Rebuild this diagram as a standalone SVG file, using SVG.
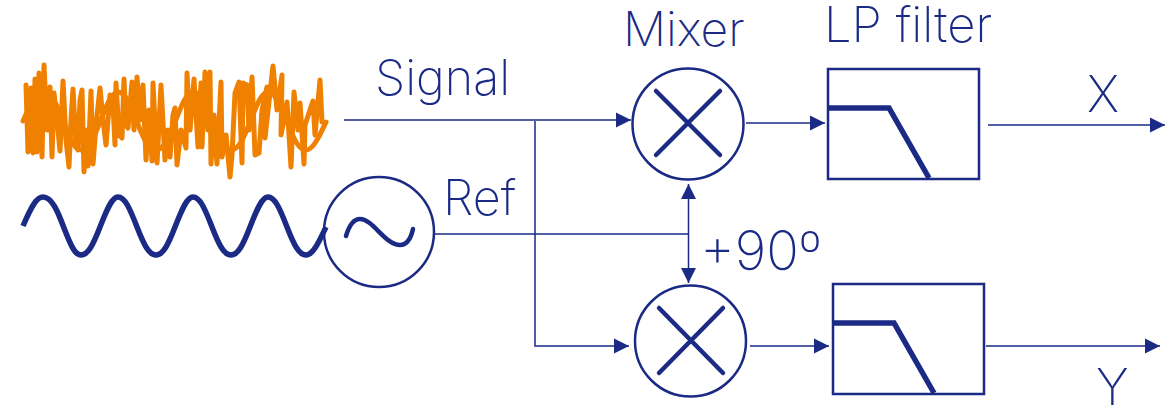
<svg xmlns="http://www.w3.org/2000/svg" width="1176" height="407" viewBox="0 0 1176 407">
<style>
text{font-family:"Inter","Liberation Sans",sans-serif;font-weight:200;fill:#1a2a85}
.o{fill:#fff;stroke:#1a2a85;stroke-width:2.5}
.s{fill:none;stroke:#1a2a85;stroke-width:5.5}
.x{fill:none;stroke:#1a2a85;stroke-width:4.5;stroke-linecap:round}
.c{fill:none;stroke:#1a2a85;stroke-width:1.5}
.n{fill:none;stroke:#f08000;stroke-width:5;stroke-linejoin:round;stroke-linecap:round}
</style>
<defs>
<marker id="a" markerUnits="userSpaceOnUse" markerWidth="16" markerHeight="16" refX="15" refY="8" orient="auto-start-reverse"><path d="M0 0.5L15 8L0 15.5Z" fill="#1a2a85"/></marker>
<path id="w" d="M23 226C32 205 37 197 43 197C52 197 58 212 64 228C71 246 75 255 81 255C88 255 93 245 100 227C107 209 112 197 118 197C125 197 130 209 137 227C144 245 149 255 156 255C163 255 168 245 175 227C182 209 187 197 193 197C200 197 205 209 212 227C219 245 224 255 231 255C238 255 243 245 250 227C257 209 262 197 268 197C275 197 280 209 287 227C294 245 299 255 306 255C313 255 319 242 326 227"/>
</defs>
<g id="noise">
<use href="#w" class="n" transform="translate(0,-105)"/>
<path class="n" d="M26 85L28 152L31 88L33 153L35 79L37 152L39 73L42 157L44 65L47 130L50 87L52 157L54 93L58 130L60 151L63 81L66 140L69 167L71 120L73 89L76 145L78 150L80 100L82 90L84 172L86 130L88 166L91 91L93 164L96 125L100 88L103 120L106 145L110 95L113 105L115 145L116 83L119 135L122 138L124 79L126 125L128 128L132 82L134 130L137 77L140 120L143 85L146 160L149 110L152 161L153 83L157 163L161 85L165 160L168 130L170 157L173 115L175 108L177 165L181 130L186 148L187 73L190 130L194 79L198 147L201 83L202 147L205 72L208 130L210 72L211 164L214 115L217 164L221 82L222 157L226 135L230 177L232 155L235 93L239 82L242 163L243 83L247 85L249 130L252 77L255 155L259 153L262 110L267 87L265 138L273 66L277 110L282 75L281 135L287 102L291 167L294 92L298 130L300 103L304 164L305 125L313 101L315 135L320 80L322 122"/>
</g>
<g id="sine"><use href="#w" class="s"/></g>
<g id="connectors">
<path class="c" marker-end="url(#a)" d="M344 120H631"/>
<path class="c" marker-end="url(#a)" d="M535 121V346H629"/>
<path class="c" d="M435 234H689"/>
<path class="c" marker-start="url(#a)" marker-end="url(#a)" d="M688.5 184V283"/>
<path class="c" marker-end="url(#a)" d="M746 123H825"/>
<path class="c" marker-end="url(#a)" d="M988 125H1165"/>
<path class="c" marker-end="url(#a)" d="M750 346H829"/>
<path class="c" marker-end="url(#a)" d="M986 346H1160"/>
</g>
<g id="oscillator"><circle class="o" cx="379" cy="232" r="55" fill-opacity="0"/><path fill="none" stroke="#1a2a85" stroke-width="4.5" stroke-linecap="round" d="M346 236C349 226 353 219 360 219C373 219 385 245 400 245C407 245 411 238 413 229"/></g>
<g id="mixer1"><circle class="o" cx="688" cy="124" r="55.5"/><path class="x" d="M656 91L720 155M720 91L656 155"/></g>
<g id="mixer2"><circle class="o" cx="690.5" cy="341" r="55.5"/><path class="x" d="M659 308L723 373M723 308L659 373"/></g>
<g id="filter1"><rect class="o" x="828" y="69" width="151" height="110"/><path class="s" d="M828 108H889L929 178"/></g>
<g id="filter2"><rect class="o" x="833" y="284" width="151" height="110"/><path class="s" d="M833 323H894L934 393"/></g>
<g id="labels">
<text x="375" y="95" font-size="48.5">Signal</text>
<text x="443" y="215" font-size="48.5">Ref</text>
<text x="623" y="46" font-size="48">Mixer</text>
<text x="824" y="42" font-size="49">LP filter</text>
<text x="1087" y="112" font-size="50">X</text>
<text x="1096" y="405" font-size="50">Y</text>
<text x="700" y="270" font-size="54">+90º</text>
</g>
</svg>
